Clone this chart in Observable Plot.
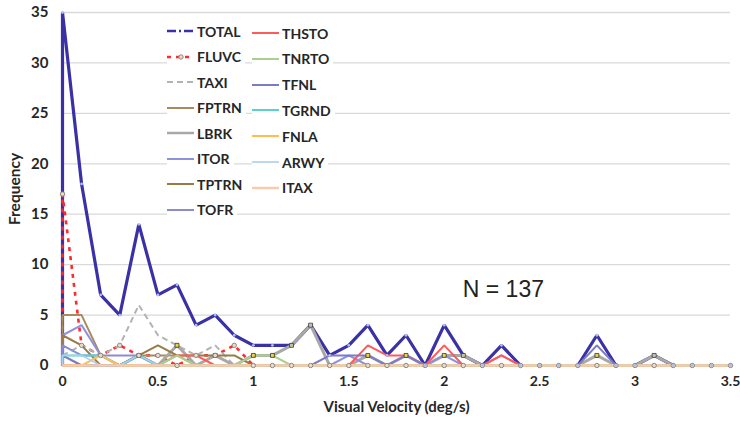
<!DOCTYPE html>
<html>
<head>
<meta charset="utf-8">
<script src="https://cdn.jsdelivr.net/npm/d3@7"></script>
<script src="https://cdn.jsdelivr.net/npm/@observablehq/plot@0.6"></script>
<style>
  html, body { margin: 0; padding: 0; background: #fff; }
  #wrap { position: relative; width: 740px; height: 424px; font-family: Lato, "Open Sans", sans-serif; }
  .leg { position: absolute; display: flex; align-items: center; height: 18px; background: #fff; padding-right: 4px;
         font-weight: 700; font-size: 14px; color: #262626; }
  .leg svg { display: block; margin-right: 3px; }
</style>
</head>
<body>
<div id="wrap"></div>
<script>
// ---- data ----
const velocity = [0,0,0.1,0.2,0.3,0.4,0.5,0.6,0.7,0.8,0.9,1.0,1.1,1.2,1.3,1.4,1.5,1.6,1.7,1.8,1.9,2.0,2.1,2.2,2.3,2.4,2.5,2.6,2.7,2.8,2.9,3.0,3.1,3.2,3.3,3.4,3.5];
const TOTAL = [0,35,18,7,5,14,7,8,4,5,3,2,2,2,4,1,2,4,1,3,0,4,1,0,2,0,0,0,0,3,0,0,1,0,0,0,0];
const FLUVC = [0,17,2,1,2,1,1,0,1,1,2,0,0,0,0,0,0,0,0,0,0,0,0,0,0,0,0,0,0,0,0,0,0,0,0,0,0];
const TAXI  = [0,1,2,1,2,6,3,2,1,2,0,0,0,0,0,0,0,0,0,0,0,0,0,0,0,0,0,0,0,0,0,0,0,0,0,0,0];
const FPTRN = [0,5,5,1,0,1,1,1,0,0,0,0,0,0,0,0,0,0,0,0,0,0,0,0,0,0,0,0,0,0,0,0,0,0,0,0,0];
const LBRK  = [0,0,0,0,0,1,0,2,0,1,0,1,1,2,4,0,0,1,0,1,0,1,1,0,0,0,0,0,0,1,0,0,1,0,0,0,0];
const ITOR  = [0,3,4,1,0,1,0,0,0,0,0,0,0,0,0,0,1,0,0,0,0,1,0,0,0,0,0,0,0,0,0,0,0,0,0,0,0];
const TPTRN = [0,3,2,0,0,1,2,1,1,1,1,0,0,0,0,0,0,0,0,0,0,0,0,0,0,0,0,0,0,0,0,0,0,0,0,0,0];
const TOFR  = [0,2,1,1,1,1,0,0,0,0,0,0,0,0,0,0,0,0,0,0,0,0,0,0,1,0,0,0,0,0,0,0,0,0,0,0,0];
const THSTO = [0,0,0,0,0,0,0,1,1,0,0,0,0,0,0,0,0,2,1,1,0,2,0,0,1,0,0,0,0,0,0,0,0,0,0,0,0];
const TNRTO = [0,1,0,0,0,0,0,1,0,0,0,1,1,0,0,0,0,0,0,0,0,0,0,0,0,0,0,0,0,0,0,0,0,0,0,0,0];
const TFNL  = [0,1,0,0,0,0,0,0,0,0,0,0,0,0,0,1,1,1,0,1,0,0,0,0,0,0,0,0,0,2,0,0,0,0,0,0,0];
const TGRND = [0,1,1,1,0,1,0,0,0,0,0,0,0,0,0,0,0,0,0,0,0,0,0,0,0,0,0,0,0,0,0,0,0,0,0,0,0];
const FNLA  = [0,0,0,1,0,0,0,0,0,0,0,0,0,0,0,0,0,0,0,0,0,0,0,0,0,0,0,0,0,0,0,0,0,0,0,0,0];
const ARWY  = [0,1,1,0,0,1,0,0,0,0,0,0,0,0,0,0,0,0,0,0,0,0,0,0,0,0,0,0,0,0,0,0,0,0,0,0,0];
const ITAX  = [0,0,0,0,0,0,0,0,0,0,0,0,0,0,0,0,0,0,0,0,0,0,0,0,0,0,0,0,0,0,0,0,0,0,0,0,0];

const seriesNames = ["TOTAL","FLUVC","TAXI","FPTRN","LBRK","ITOR","TPTRN","TOFR","THSTO","TNRTO","TFNL","TGRND","FNLA","ARWY","ITAX"];
const seriesData  = [TOTAL,FLUVC,TAXI,FPTRN,LBRK,ITOR,TPTRN,TOFR,THSTO,TNRTO,TFNL,TGRND,FNLA,ARWY,ITAX];
const yTicks = [0,5,10,15,20,25,30,35];
const xTicks = [0,0.5,1,1.5,2,2.5,3,3.5];
const xTickLabels = ["0","0.5","1","1.5","2","2.5","3","3.5"];
const annotation = "N = 137";
const xTitle = "Visual Velocity (deg/s)";
const yTitle = "Frequency";

// ---- styles ----
const styles = {
  TOTAL: {stroke:"#3b31a7", strokeWidth:3.2},
  FLUVC: {stroke:"#ff2b2b", strokeWidth:2.6, strokeDasharray:"4,5"},
  TAXI:  {stroke:"#b3b3b3", strokeWidth:2, strokeDasharray:"6,4"},
  FPTRN: {stroke:"#a88b5c", strokeWidth:2},
  LBRK:  {stroke:"#a8a8a8", strokeWidth:3},
  ITOR:  {stroke:"#9091dc", strokeWidth:2},
  TPTRN: {stroke:"#9a7b47", strokeWidth:2},
  TOFR:  {stroke:"#8b8bd2", strokeWidth:2},
  THSTO: {stroke:"#ff5a5a", strokeWidth:2},
  TNRTO: {stroke:"#a9d08e", strokeWidth:2},
  TFNL:  {stroke:"#7b7bc8", strokeWidth:2},
  TGRND: {stroke:"#5fd0c8", strokeWidth:2},
  FNLA:  {stroke:"#ffbf50", strokeWidth:2},
  ARWY:  {stroke:"#a9cff0", strokeWidth:1.6},
  ITAX:  {stroke:"#f8cbad", strokeWidth:2.6}
};

const rowsOf = (vals, name) => velocity.map((x, i) => ({x, y: vals[i], series: name}));
const table = seriesNames.map((n, k) => rowsOf(seriesData[k], n));

const lineMarks = seriesNames.map((n, k) =>
  Plot.line(table[k], {x: "x", y: "y", ...styles[n], strokeLinejoin: "miter", strokeLinecap: "butt"}));

const chart = Plot.plot({
  width: 740,
  height: 424,
  marginLeft: 62,
  marginRight: 10,
  marginTop: 12,
  marginBottom: 59,
  x: {domain: [0, 3.5]},
  y: {domain: [0, 35]},
  style: {fontFamily: "Lato, 'Open Sans', sans-serif", color: "#262626", background: "#fff"},
  marks: [
    Plot.gridY(yTicks, {stroke: "#d9d9d9", strokeOpacity: 1, strokeWidth: 1.3}),
    Plot.axisY(yTicks, {tickSize: 0, tickPadding: 14, label: null, fontSize: 15, fontWeight: "bold"}),
    Plot.axisX(xTicks, {tickSize: 0, tickPadding: 11, label: null, fontSize: 14, fontWeight: "bold",
                        tickFormat: (d) => xTickLabels[xTicks.indexOf(d)]}),
    ...lineMarks,
    Plot.dot(table[4].filter(d => d.y > 0), {x: "x", y: "y", symbol: "square", r: 2.2, fill: "#e8d44a", stroke: "#333", strokeWidth: 0.8}),
    Plot.dot(table[1].slice(1), {x: "x", y: "y", r: 2.2, fill: "#e6ddd0", stroke: "#8a7a6a", strokeWidth: 0.9}),
    Plot.dot(table[0].slice(1), {x: "x", y: "y", r: 1.4, fill: "#a9bff0"}),
    Plot.text([{x: 2.31, y: 7.5, t: annotation}], {x: "x", y: "y", text: "t", fontSize: 23,
               fontFamily: "'Liberation Sans', Arial, sans-serif", fill: "#222", fontWeight: "normal"}),
    Plot.text([yTitle], {frameAnchor: "left", textAnchor: "middle", dx: -47, rotate: -90, fontSize: 15.5, fontWeight: "bold"}),
    Plot.text([xTitle], {frameAnchor: "bottom", textAnchor: "middle", dy: 46, fontSize: 15, fontWeight: "bold"})
  ]
});

const wrap = document.getElementById("wrap");
wrap.appendChild(chart);

// ---- legend (two columns inside the plot) ----
const col1 = ["TOTAL","FLUVC","TAXI","FPTRN","LBRK","ITOR","TPTRN","TOFR"];
const col2 = ["THSTO","TNRTO","TFNL","TGRND","FNLA","ARWY","ITAX"];
function sample(name) {
  const s = styles[name];
  let dash = s.strokeDasharray ? `stroke-dasharray="${s.strokeDasharray}"` : "";
  if (name === "TOTAL") dash = `stroke-dasharray="9,3,2,3"`;
  let extra = "";
  if (name === "FLUVC") extra = `<circle cx="14" cy="5" r="2.2" fill="#e6ddd0" stroke="#8a7a6a" stroke-width="0.9"/>`;
  return `<svg width="27" height="10"><line x1="0" y1="5" x2="27" y2="5" stroke="${s.stroke}" stroke-width="${Math.min(s.strokeWidth,2.5)}" ${dash}/>${extra}</svg>`;
}
function addLeg(name, left, cy) {
  const d = document.createElement("div");
  d.className = "leg";
  d.style.left = left + "px";
  d.style.top = (cy - 9) + "px";
  d.innerHTML = sample(name) + `<span>${name}</span>`;
  wrap.appendChild(d);
}
col1.forEach((n, i) => addLeg(n, 167, 31 + i * 25.5));
col2.forEach((n, i) => addLeg(n, 252, 33 + i * 25.8));
</script>
</body>
</html>
